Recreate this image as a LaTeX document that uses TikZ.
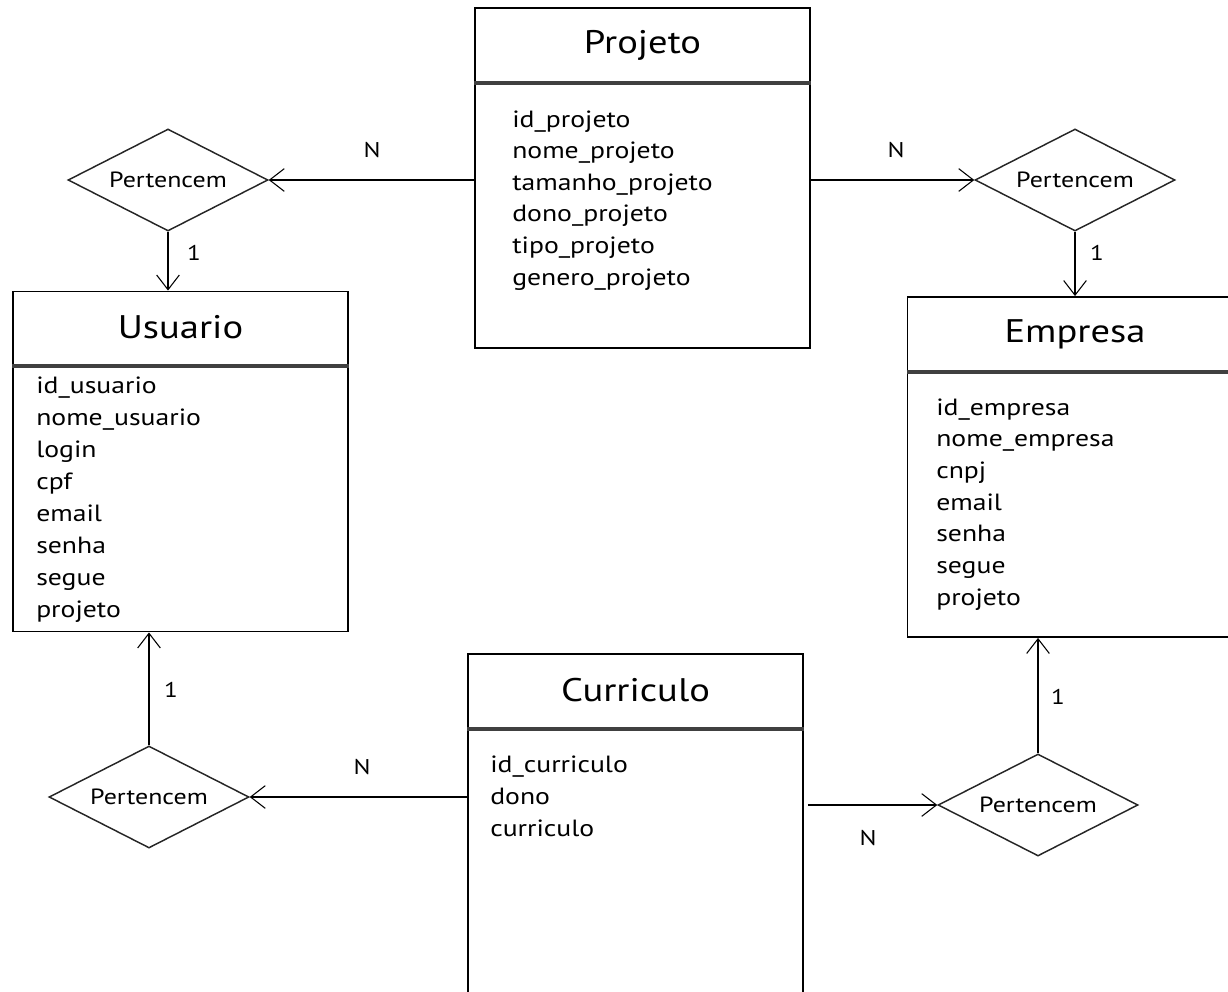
\documentclass[tikz,border=0pt]{standalone}
\usepackage{fontspec}
\setmainfont{PT Sans}[FakeStretch=1.18]
\usetikzlibrary{arrows.meta,shapes.geometric}
\begin{document}
\begin{tikzpicture}[x=0.75pt,y=-0.75pt,
  entity/.style={draw=black,line width=1.4pt,rectangle,inner sep=0pt,
    minimum width=251.25pt,minimum height=255pt,fill=white},
  divider/.style={line width=3pt,draw=black!75},
  title/.style={font=\fontsize{24.5}{28}\selectfont,inner sep=0pt},
  attr/.style={font=\fontsize{17.6}{21}\selectfont,anchor=base west,inner sep=0pt},
  rel/.style={diamond,draw=black!85,line width=1.1pt,aspect=2,inner sep=0pt,
    minimum width=150pt,minimum height=76.5pt,font=\fontsize{16.5}{19}\selectfont},
  conn/.style={draw=black,line width=1.1pt,
    -{Straight Barb[length=11pt,width=17pt,line width=0.8pt]}},
  card/.style={font=\fontsize{16}{19}\selectfont,inner sep=0pt}]
\path[use as bounding box] (0,0) rectangle (1228,992);
\clip (0,0) rectangle (1228,992);

% entities
\node[entity] (projeto)   at (642.5,178)  {};
\node[entity] (usuario)   at (180.5,461.5){};
\node[entity] (empresa)   at (1075,467)   {};
\node[entity] (curriculo) at (635.5,824)  {};

% header dividers
\foreach \e in {projeto,usuario,empresa,curriculo}
  \draw[divider] ([yshift=-56.6pt]\e.north west) -- ([yshift=-56.6pt]\e.north east);

% titles
\node[title] (tprojeto)   at ([yshift=-28.5pt]projeto.north)   {Projeto};
\node[title] (tusuario)   at ([yshift=-27.5pt]usuario.north)   {Usuario};
\node[title] (tempresa)   at ([yshift=-29pt]empresa.north)     {Empresa};
\node[title] (tcurriculo) at ([yshift=-27.5pt]curriculo.north) {Curriculo};

% attributes
\foreach \t [count=\i] in {id\_projeto,nome\_projeto,tamanho\_projeto,dono\_projeto,tipo\_projeto,genero\_projeto}
  \node[attr] (ap\i) at (512,{127+31.6*(\i-1)}) {\t};
\foreach \t [count=\i] in {id\_usuario,nome\_usuario,login,cpf,email,senha,segue,projeto}
  \node[attr] (au\i) at (36,{393+32*(\i-1)}) {\t};
\foreach \t [count=\i] in {id\_empresa,nome\_empresa,cnpj,email,senha,segue,projeto}
  \node[attr] (ae\i) at (936,{415+31.7*(\i-1)}) {\t};
\foreach \t [count=\i] in {id\_curriculo,dono,curriculo}
  \node[attr] (ac\i) at (490,{772+32*(\i-1)}) {\t};

% relationships
\node[rel] (r1) at (168,180)  {Pertencem};
\node[rel] (r2) at (1075,180) {Pertencem};
\node[rel] (r3) at (149,797)  {Pertencem};
\node[rel] (r4) at (1038,805) {Pertencem};

% connectors
\draw[conn] (projeto.west |- r1) -- (r1.east);
\draw[conn] (r1.south) -- (r1.south |- usuario.north);
\draw[conn] (projeto.east |- r2) -- (r2.west);
\draw[conn] (r2.south) -- (r2.south |- empresa.north);
\draw[conn] (r3.north) -- (r3.north |- usuario.south);
\draw[conn] (curriculo.west |- r3) -- (r3.east);
\draw[conn] ([xshift=3pt]curriculo.east |- r4) -- (r4.west);
\draw[conn] (r4.north) -- (r4.north |- empresa.south);

% cardinalities
\node[card] (c1) at (372,150) {N};
\node[card] (c2) at (194,253) {1};
\node[card] (c3) at (896,150) {N};
\node[card] (c4) at (1097,253) {1};
\node[card] (c5) at (171,690) {1};
\node[card] (c6) at (362,767) {N};
\node[card] (c7) at (868,838) {N};
\node[card] (c8) at (1058,697) {1};
\end{tikzpicture}
\end{document}
